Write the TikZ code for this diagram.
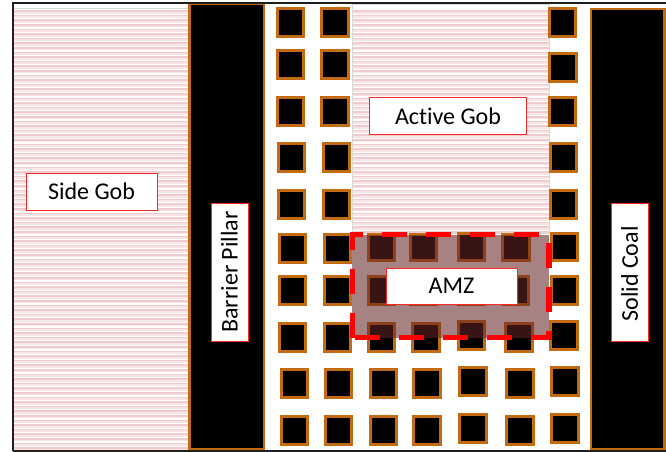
\documentclass[tikz,border=0pt]{standalone}
\usepackage{fontspec}
\setmainfont[Ligatures=NoCommon]{Carlito}
\definecolor{pillarorange}{HTML}{C46A10}
\definecolor{amzfill}{HTML}{642424}
\definecolor{hatchA}{HTML}{F2CCCC}
\definecolor{hatchB}{HTML}{F8E6E6}
\newcommand{\nudged}[1]{\raisebox{-1.2pt}{#1}}
\tikzset{
  x=1pt,y=-1pt,
  frameline/.style={draw=black!88,line width=2pt},
  pillar/.style={fill=black,draw=pillarorange,line width=2.4pt},
  pillarblock/.style={fill=black,draw=pillarorange,line width=3pt},
  label box/.style={draw=red!85!white,line width=0.9pt,fill=white,inner sep=0pt,text=black,font=\fontsize{24}{24}\selectfont,anchor=center},
  amzshade/.style={fill=amzfill,fill opacity=0.57},
  amzdash/.style={draw=red,line width=5.8pt,dash pattern=on 25pt off 19pt},
  hatchdots/.style={draw=hatchA,line width=1.6pt},
  hatchband/.style={draw=hatchB,line width=1.8pt},
  gobedge/.style={draw=black!15,line width=0.6pt},
}
\newcommand{\gobhatch}[4]{%
  \begin{scope}
  \clip (#1,#2) rectangle (#3,#4);
  \foreach \yy in {11,15.6,...,452}{
    \draw[hatchdots] (#1,\yy) -- (#3,\yy);
    \draw[hatchband] (#1,\yy+1.7) -- (#3,\yy+1.7);
  }
  \end{scope}
  \draw[gobedge] (#1,#2) rectangle (#3,#4);}
\begin{document}
\begin{tikzpicture}
\useasboundingbox (0,0) rectangle (666,452);
\fill[white] (0,0) rectangle (666,452);
% gobs
\gobhatch{13}{8}{188}{450}
\gobhatch{352}{4}{549}{233}
% pillars
\draw[pillar] (189.5,4) rectangle (264,449);
\draw[pillar] (591,9) rectangle (664.5,449);
% blocks: x1/y1/x2/y2 outer bounds
\foreach \xa/\ya/\xb/\yb in {
 276/7/305/38, 276/49/305/80, 276/96/305/127, 277/142/306/173, 277/189/306/220,
 278/233/307/264, 278/275/307/306, 278/322/307/353, 280/368/309/399, 280/415/309/446,
 320/7/350/38, 320/49/350/80, 320/96/350/127, 322/142/351/173, 322/189/351/220,
 323/233/352/264, 323/275/352/306, 323/322/352/353, 324/368/353/399, 324/415/353/446,
 367/233/396/262, 409/233/438/262, 457/232/486/262, 501/233/531/262,
 367/275/396/306, 409/275/438/306, 457/275/486/306, 501/275/530/306,
 367/322/396/353, 411/322/441/353, 457/320/486/351, 504/322/534/353,
 369/368/398/399, 412/368/442/399, 458/366/488/397, 505/368/535/399,
 369/415/398/446, 412/415/442/446, 458/413/488/444, 505/415/535/446,
 548/7/577/38, 548/52/578/83, 548/96/577/127, 549/142/578/173, 549/189/578/220,
 550/232/579/262, 550/275/579/306, 549/320/579/351, 550/366/580/397, 550/413/580/444}{
  \draw[pillarblock] (\xa+1.5,\ya+1.5) rectangle (\xb-1.5,\yb-1.5);
}
% AMZ
\fill[amzshade] (352,234.5) rectangle (549,337.5);
\draw[amzdash] (352.5,337.5) -- (352.5,234.5) -- (549,234.5) -- (549,337.5) -- cycle;
% frame
\draw[frameline] (12.5,451) -- (12.5,3) -- (666,3);
\draw[frameline] (12.5,451) -- (666,451);
% labels
\node[label box,minimum width=131pt,minimum height=37pt] (sidegob) at (91.5,191.5) {\nudged{Side Gob}};
\node[label box,minimum width=157pt,minimum height=37pt] (activegob) at (448,116) {\nudged{Active Gob}};
\node[label box,minimum width=131pt,minimum height=36pt] (amz) at (451.5,286) {\nudged{AMZ}};
\node[label box,minimum width=138pt,minimum height=37pt,rotate=90] (barrier) at (229.5,272) {Barrier Pillar};
\node[label box,minimum width=138pt,minimum height=37pt,rotate=90] (solid) at (629.5,272) {\hspace*{-4pt}Solid Coal};
\end{tikzpicture}
\end{document}
